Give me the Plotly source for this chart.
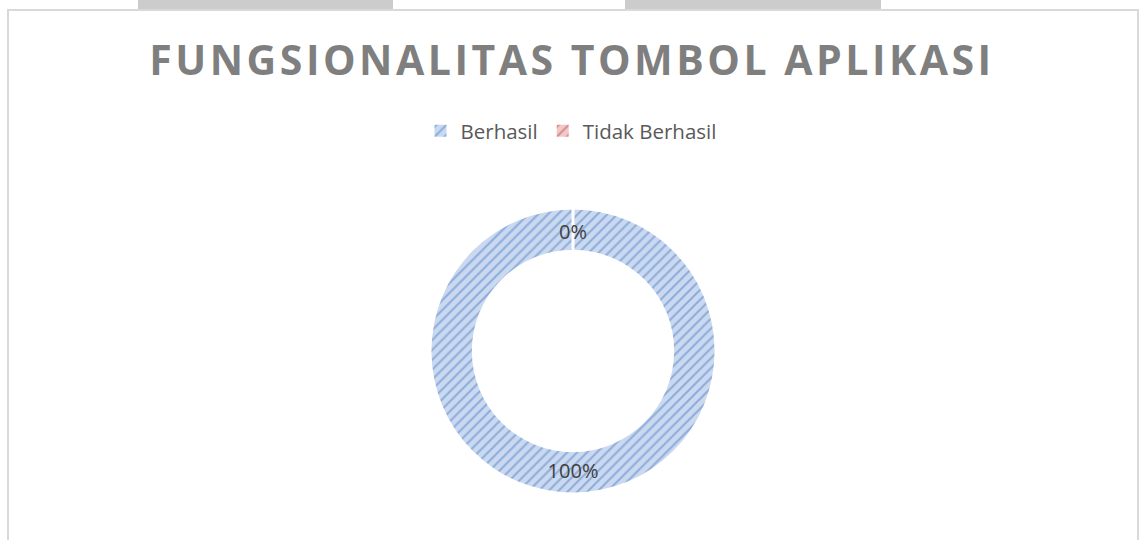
import plotly.graph_objects as go

labels = ["Berhasil", "Tidak Berhasil"]
values = [100, 0]
colors = ["#cad9f0", "#f0c8c8"]
stripe_colors = ["#4f7fc6", "#c0504d"]
title_text = "FUNGSIONALITAS TOMBOL APLIKASI"

W, H = 1140, 540

fig = go.Figure()
fig.add_trace(go.Pie(
    labels=labels,
    values=values,
    hole=0.715,
    sort=False,
    direction="clockwise",
    rotation=0,
    domain=dict(x=[431.5 / W, 714.5 / W], y=[47.5 / H, 330.5 / H]),
    marker=dict(
        colors=colors,
        line=dict(color="white", width=0),
        pattern=dict(shape="/", fgcolor=stripe_colors, bgcolor=colors,
                     size=7, solidity=0.28, fillmode="overlay"),
    ),
    texttemplate="%{percent:.0%}",
    textposition="inside",
    insidetextorientation="horizontal",
    textfont=dict(family="Open Sans", size=20, color="#404040"),
    showlegend=True,
))

shapes = [
    dict(type="rect", xref="paper", yref="paper", x0=8 / W, x1=1138 / W,
         y0=-0.05, y1=(H - 10) / H, line=dict(color="#d9d9d9", width=2),
         fillcolor="rgba(0,0,0,0)", layer="above"),
    dict(type="rect", xref="paper", yref="paper", x0=138 / W, x1=393 / W,
         y0=(H - 9) / H, y1=1, line=dict(width=0), fillcolor="#cccccc"),
    dict(type="rect", xref="paper", yref="paper", x0=625 / W, x1=881 / W,
         y0=(H - 9) / H, y1=1, line=dict(width=0), fillcolor="#cccccc"),
    dict(type="line", xref="paper", yref="paper", x0=573 / W, x1=573 / W,
         y0=(H - 252) / H, y1=(H - 208) / H, line=dict(color="white", width=3),
         layer="above"),
]

zero_share = values[1] / sum(values)
annotations = [
    dict(text=f"{zero_share:.0%}", xref="paper", yref="paper",
         x=573 / W, y=1 - 231 / H, showarrow=False,
         font=dict(family="Open Sans", size=20, color="#404040")),
]

fig.update_layout(
    width=W, height=H,
    margin=dict(l=0, r=0, t=0, b=0),
    paper_bgcolor="white",
    plot_bgcolor="white",
    shapes=shapes,
    annotations=annotations,
    title=dict(text=title_text, x=572 / W, xanchor="center",
               y=1 - 61 / H, yanchor="middle", yref="container",
               font=dict(family="Open Sans", size=41, color="#7f7f7f", weight="bold")),
    legend=dict(orientation="h", x=571 / W, xanchor="center",
                y=1 - 131 / H, yanchor="middle",
                font=dict(family="Open Sans", size=20.5, color="#595959"),
                itemwidth=30),
)

post = """
document.body.style.margin='0';
document.body.style.overflow='hidden';
var t=document.querySelector('.gtitle');
if(t){t.style.letterSpacing='3.5px';}
"""

fig.write_html("out.html", post_script=post, config={"displayModeBar": False})
